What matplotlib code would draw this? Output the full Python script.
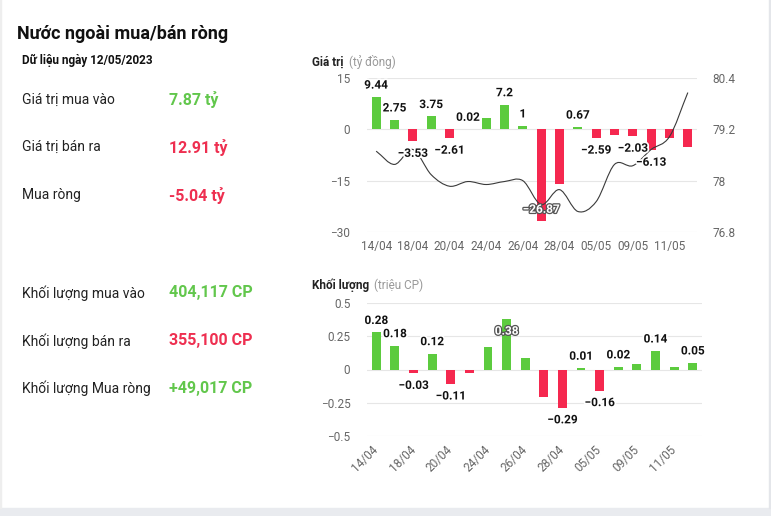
import numpy as np
import matplotlib
matplotlib.use('Agg')
import matplotlib.pyplot as plt
from matplotlib.path import Path
from matplotlib.patches import PathPatch, Rectangle
import matplotlib.patheffects as pe

plt.rcParams['font.family'] = ['Roboto', 'DejaVu Sans']

# ---------------------------------------------------------------------------
# Donnees
# ---------------------------------------------------------------------------
dates = ['14/04', '17/04', '18/04', '19/04', '20/04', '21/04', '24/04', '25/04', '26/04',
         '27/04', '28/04', '04/05', '05/05', '08/05', '09/05', '10/05', '11/05', '12/05']
net_value = [9.44, 2.75, -3.53, 3.75, -2.61, 0.02, 3.2, 7.2, 1.0,
             -26.87, -16.05, 0.67, -2.59, -1.8, -2.03, -6.13, -2.6, -5.04]
price = [78.69, 78.38, 78.73, 78.14, 77.87, 77.98, 77.91, 77.98, 78.0,
         77.44, 77.79, 77.28, 77.51, 78.38, 78.35, 78.73, 79.03, 80.06]
net_volume = [0.28, 0.18, -0.03, 0.12, -0.11, -0.03, 0.17, 0.38, 0.09,
              -0.21, -0.29, 0.01, -0.16, 0.02, 0.04, 0.14, 0.02, 0.05]

# etiquettes visibles (les autres sont masquees dans l'original)
value_label_idx = [0, 1, 2, 3, 4, 5, 7, 8, 9, 11, 12, 14, 15]
value_inside_idx = [9]
volume_label_idx = [0, 1, 2, 3, 4, 7, 10, 11, 12, 13, 15, 17]
volume_inside_idx = [7]

summary_date = 'Dữ liệu ngày 12/05/2023'
summary_labels = ['Giá trị mua vào', 'Giá trị bán ra', 'Mua ròng',
                  'Khối lượng mua vào', 'Khối lượng bán ra', 'Khối lượng Mua ròng']
summary_values = ['7.87 tỷ', '12.91 tỷ', '-5.04 tỷ',
                  '404,117 CP', '355,100 CP', '+49,017 CP']
summary_signs = [1, -1, -1, 1, -1, 1]

GREEN = '#5ccb3e'
RED = '#f5284f'
TXT_GREEN = '#62c74c'
TXT_RED = '#ee2f50'
GRID = '#e6e6e6'
TICK = '#666666'

W, H = 771, 516


def fx(px):
    return px / W


def fy(py):
    return 1 - py / H


def fmt(v):
    return '{:g}'.format(v).replace('-', '\u2212')


def spline_path(xs, ys):
    xs = np.asarray(xs, float)
    ys = np.asarray(ys, float)
    mx, my = np.gradient(xs), np.gradient(ys)
    verts = [(xs[0], ys[0])]
    codes = [Path.MOVETO]
    for i in range(len(xs) - 1):
        verts += [(xs[i] + mx[i] / 3, ys[i] + my[i] / 3),
                  (xs[i + 1] - mx[i + 1] / 3, ys[i + 1] - my[i + 1] / 3),
                  (xs[i + 1], ys[i + 1])]
        codes += [Path.CURVE4] * 3
    return Path(verts, codes)


def style_axis(ax):
    for s in ax.spines.values():
        s.set_visible(False)
    ax.tick_params(length=0, colors=TICK, labelsize=8.5)
    ax.set_axisbelow(True)
    ax.grid(True, axis='y', color=GRID, linewidth=0.8)
    ax.grid(False, axis='x')


def add_labels(ax_draw, ax_data, values, idx_list, inside):
    outline = [pe.withStroke(linewidth=2.5, foreground='white')]
    inner = [pe.withStroke(linewidth=1.8, foreground='#555555')]
    for i in idx_list:
        v = values[i]
        sign = 1 if v >= 0 else -1
        if i in inside:
            off, color, eff = -8.6 * sign, 'white', inner
        else:
            off, color, eff = 8.6 * sign, '#111111', outline
        ax_draw.annotate(fmt(v), xy=(i, v), xycoords=ax_data.transData,
                         xytext=(0, off), textcoords='offset points',
                         ha='center', va='center', fontsize=8.5, fontweight='bold',
                         color=color, path_effects=eff, zorder=10)


fig = plt.figure(figsize=(W / 100, H / 100), dpi=100)
fig.patch.set_facecolor('white')

# cadre
fig.patches.append(Rectangle((0, 0), 1, fy(508), transform=fig.transFigure,
                             color='#e9ebef', zorder=0))
fig.patches.append(Rectangle((fx(769), fy(508)), fx(2), 1, transform=fig.transFigure,
                             color='#e4e6ea', zorder=0))
fig.patches.append(Rectangle((0, fy(508)), fx(1), 1, transform=fig.transFigure,
                             color='#eeeeee', zorder=0))

# =============================================================================
# Panneau de gauche
# =============================================================================
fig.text(fx(17), fy(34), 'Nước ngoài mua/bán ròng', fontsize=13, fontweight='bold',
         color='#111111', va='center', ha='left')
fig.text(fx(22), fy(60), summary_date, fontsize=8.5, fontweight='bold',
         color='#111111', va='center', ha='left')

rows_y = [100, 147, 195, 293, 341, 388]
for yy, lab, val, sg in zip(rows_y, summary_labels, summary_values, summary_signs):
    fig.text(fx(22), fy(yy), lab, fontsize=10, color='#222222', va='center', ha='left')
    fig.text(fx(169), fy(yy), val, fontsize=11.5, fontweight='bold',
             color=TXT_GREEN if sg > 0 else TXT_RED, va='center', ha='left')

x = np.arange(len(dates))

# =============================================================================
# Graphique 1: Gia tri
# =============================================================================
fig.text(fx(312), fy(62), 'Giá trị', fontsize=8.5, fontweight='bold', color='#222222', va='center')
fig.text(fx(349), fy(62), '(tỷ đồng)', fontsize=8.5, color='#999999', va='center')

ax1 = fig.add_axes([fx(367), fy(232), fx(330), 154 / H])
style_axis(ax1)
ax1.bar(x, net_value, width=0.48, color=[GREEN if v >= 0 else RED for v in net_value], zorder=2)
ax1.set_xlim(-0.5, len(dates) - 0.5)
ax1.set_ylim(-30, 15)
ax1.set_yticks([-30, -15, 0, 15])
ax1.set_yticklabels([fmt(v) for v in [-30, -15, 0, 15]])
ax1.set_xticks(x[::2])
ax1.set_xticklabels(dates[::2])
ax1.tick_params(axis='y', pad=12)
ax1.tick_params(axis='x', pad=6)

ax1b = ax1.twinx()
for s in ax1b.spines.values():
    s.set_visible(False)
ax1b.set_ylim(76.8, 80.4)
ax1b.set_yticks([76.8, 78, 79.2, 80.4])
ax1b.set_yticklabels([fmt(v) for v in [76.8, 78, 79.2, 80.4]])
ax1b.tick_params(length=0, colors=TICK, labelsize=8.5, pad=11)
ax1b.add_patch(PathPatch(spline_path(x, price), fill=False, edgecolor='#3a3a3a',
                         linewidth=0.8, zorder=3))

add_labels(ax1b, ax1, net_value, value_label_idx, value_inside_idx)

# =============================================================================
# Graphique 2: Khoi luong
# =============================================================================
fig.text(fx(312), fy(285), 'Khối lượng', fontsize=8.5, fontweight='bold', color='#222222', va='center')
fig.text(fx(374), fy(285), '(triệu CP)', fontsize=8.5, color='#999999', va='center')

ax2 = fig.add_axes([fx(367), fy(435.7), fx(335), 132.4 / H])
style_axis(ax2)
ax2.bar(x, net_volume, width=0.48, color=[GREEN if v >= 0 else RED for v in net_volume], zorder=2)
ax2.set_xlim(-0.5, len(dates) - 0.5)
ax2.set_ylim(-0.5, 0.5)
ax2.set_yticks([-0.5, -0.25, 0, 0.25, 0.5])
ax2.set_yticklabels([fmt(v) for v in [-0.5, -0.25, 0, 0.25, 0.5]])
ax2.set_xticks(x[::2])
ax2.set_xticklabels(dates[::2], rotation=45, ha='right', va='center', rotation_mode='anchor')
ax2.tick_params(axis='y', pad=12)
ax2.tick_params(axis='x', pad=9)

add_labels(ax2, ax2, net_volume, volume_label_idx, volume_inside_idx)

fig.savefig('out.png', dpi=100)
plt.close('all')
